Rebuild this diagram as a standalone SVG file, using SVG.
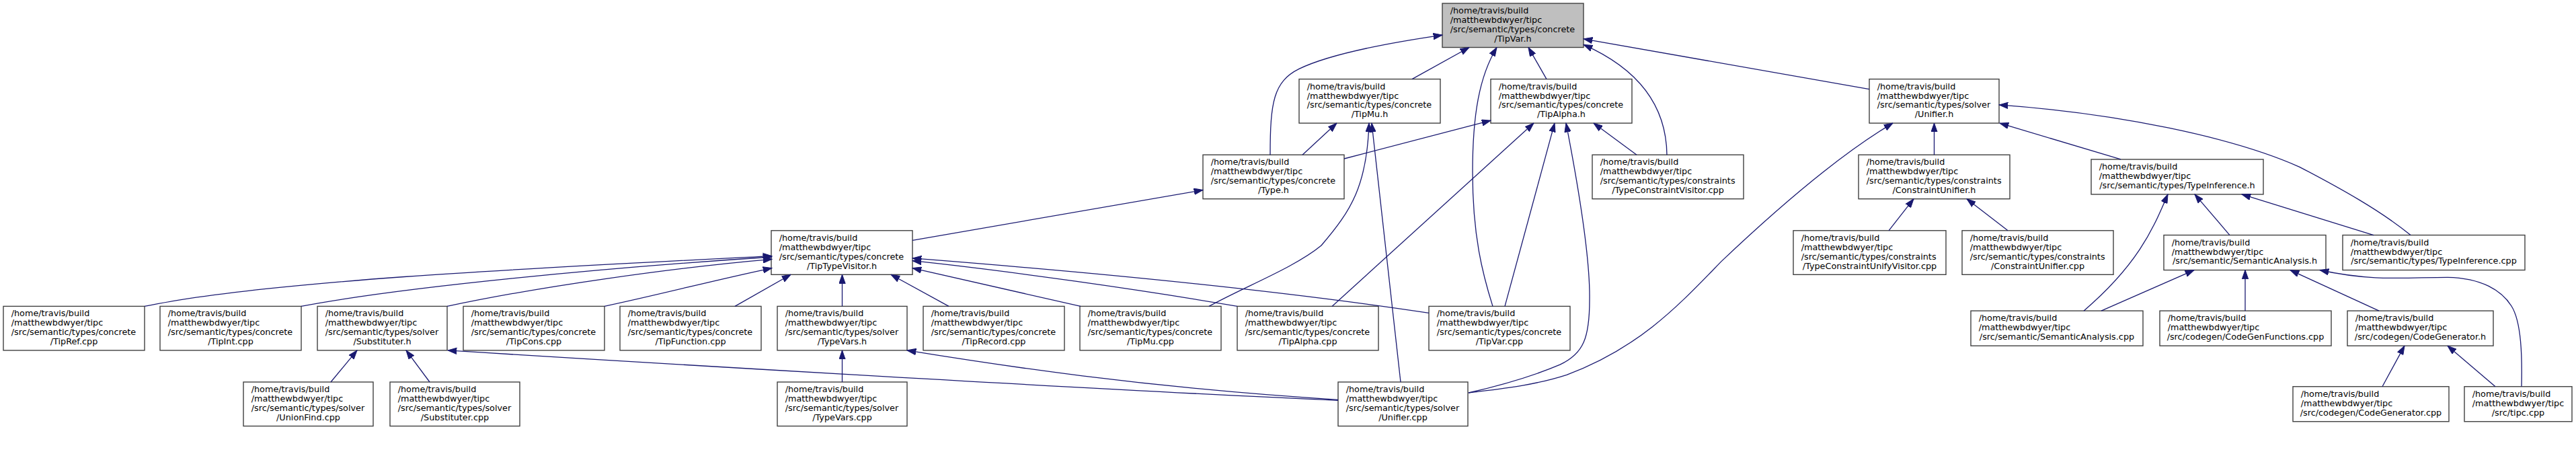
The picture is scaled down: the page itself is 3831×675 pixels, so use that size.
<svg xmlns="http://www.w3.org/2000/svg" width="3831" height="675" viewBox="0 0 3831 675">
<style>
.node rect{fill:#ffffff;stroke:#404040;stroke-width:1.4}
.root rect{fill:#bfbfbf}
text{font-family:"DejaVu Sans","Liberation Sans",sans-serif;font-size:12.8px;fill:#000}
text.c{text-anchor:middle}
#edges path{fill:none;stroke:#191970;stroke-width:1.3;marker-start:url(#ah)}
</style>
<defs>
<marker id="ah" viewBox="0 -5 14 10" refX="13.3" refY="0" markerWidth="14" markerHeight="10" markerUnits="userSpaceOnUse" orient="auto-start-reverse">
<path d="M0,-4.7 L13.3,0 L0,4.7 z" fill="#191970" stroke="#191970" stroke-width="1"/>
</marker>
</defs>
<rect width="3831" height="675" fill="#ffffff"/>

<g id="nodes">
<!-- rank 0 -->
<g id="n_TipVar_h" class="node root" transform="translate(2145,5)"><rect width="210" height="65.5"/><text x="11.7" y="15.1">/home/travis/build</text><text x="11.7" y="29">/matthewbdwyer/tipc</text><text x="11.7" y="42.9">/src/semantic/types/concrete</text><text class="c" x="105" y="56.8">/TipVar.h</text></g>
<!-- rank 1 -->
<g id="n_TipMu_h" class="node" transform="translate(1932,117.6)"><rect width="210" height="65.5"/><text x="11.7" y="15.1">/home/travis/build</text><text x="11.7" y="29">/matthewbdwyer/tipc</text><text x="11.7" y="42.9">/src/semantic/types/concrete</text><text class="c" x="105" y="56.8">/TipMu.h</text></g>
<g id="n_TipAlpha_h" class="node" transform="translate(2217,117.6)"><rect width="210" height="65.5"/><text x="11.7" y="15.1">/home/travis/build</text><text x="11.7" y="29">/matthewbdwyer/tipc</text><text x="11.7" y="42.9">/src/semantic/types/concrete</text><text class="c" x="105" y="56.8">/TipAlpha.h</text></g>
<g id="n_Unifier_h" class="node" transform="translate(2780,117.6)"><rect width="193" height="65.5"/><text x="11.7" y="15.1">/home/travis/build</text><text x="11.7" y="29">/matthewbdwyer/tipc</text><text x="11.7" y="42.9">/src/semantic/types/solver</text><text class="c" x="96.5" y="56.8">/Unifier.h</text></g>
<!-- rank 2 -->
<g id="n_Type_h" class="node" transform="translate(1789,230.2)"><rect width="210" height="65.5"/><text x="11.7" y="15.1">/home/travis/build</text><text x="11.7" y="29">/matthewbdwyer/tipc</text><text x="11.7" y="42.9">/src/semantic/types/concrete</text><text class="c" x="105" y="56.8">/Type.h</text></g>
<g id="n_TypeConstraintVisitor_cpp" class="node" transform="translate(2368,230.2)"><rect width="225" height="65.5"/><text x="11.7" y="15.1">/home/travis/build</text><text x="11.7" y="29">/matthewbdwyer/tipc</text><text x="11.7" y="42.9">/src/semantic/types/constraints</text><text class="c" x="112.5" y="56.8">/TypeConstraintVisitor.cpp</text></g>
<g id="n_ConstraintUnifier_h" class="node" transform="translate(2764,230.2)"><rect width="225" height="65.5"/><text x="11.7" y="15.1">/home/travis/build</text><text x="11.7" y="29">/matthewbdwyer/tipc</text><text x="11.7" y="42.9">/src/semantic/types/constraints</text><text class="c" x="112.5" y="56.8">/ConstraintUnifier.h</text></g>
<g id="n_TypeInference_h" class="node" transform="translate(3110,236.95)"><rect width="256" height="52"/><text x="11.7" y="15.1">/home/travis/build</text><text x="11.7" y="29">/matthewbdwyer/tipc</text><text class="c" x="128" y="42.9">/src/semantic/types/TypeInference.h</text></g>
<!-- rank 3 -->
<g id="n_TipTypeVisitor_h" class="node" transform="translate(1147,342.8)"><rect width="210" height="65.5"/><text x="11.7" y="15.1">/home/travis/build</text><text x="11.7" y="29">/matthewbdwyer/tipc</text><text x="11.7" y="42.9">/src/semantic/types/concrete</text><text class="c" x="105" y="56.8">/TipTypeVisitor.h</text></g>
<g id="n_TypeConstraintUnifyVisitor_cpp" class="node" transform="translate(2667,342.8)"><rect width="227" height="65.5"/><text x="11.7" y="15.1">/home/travis/build</text><text x="11.7" y="29">/matthewbdwyer/tipc</text><text x="11.7" y="42.9">/src/semantic/types/constraints</text><text class="c" x="113.5" y="56.8">/TypeConstraintUnifyVisitor.cpp</text></g>
<g id="n_ConstraintUnifier_cpp" class="node" transform="translate(2918,342.8)"><rect width="225" height="65.5"/><text x="11.7" y="15.1">/home/travis/build</text><text x="11.7" y="29">/matthewbdwyer/tipc</text><text x="11.7" y="42.9">/src/semantic/types/constraints</text><text class="c" x="112.5" y="56.8">/ConstraintUnifier.cpp</text></g>
<g id="n_SemanticAnalysis_h" class="node" transform="translate(3218,349.55)"><rect width="241" height="52"/><text x="11.7" y="15.1">/home/travis/build</text><text x="11.7" y="29">/matthewbdwyer/tipc</text><text class="c" x="120.5" y="42.9">/src/semantic/SemanticAnalysis.h</text></g>
<g id="n_TypeInference_cpp" class="node" transform="translate(3484,349.55)"><rect width="271" height="52"/><text x="11.7" y="15.1">/home/travis/build</text><text x="11.7" y="29">/matthewbdwyer/tipc</text><text class="c" x="135.5" y="42.9">/src/semantic/types/TypeInference.cpp</text></g>
<!-- rank 4 -->
<g id="n_TipRef_cpp" class="node" transform="translate(5,455.4)"><rect width="210" height="65.5"/><text x="11.7" y="15.1">/home/travis/build</text><text x="11.7" y="29">/matthewbdwyer/tipc</text><text x="11.7" y="42.9">/src/semantic/types/concrete</text><text class="c" x="105" y="56.8">/TipRef.cpp</text></g>
<g id="n_TipInt_cpp" class="node" transform="translate(238,455.4)"><rect width="210" height="65.5"/><text x="11.7" y="15.1">/home/travis/build</text><text x="11.7" y="29">/matthewbdwyer/tipc</text><text x="11.7" y="42.9">/src/semantic/types/concrete</text><text class="c" x="105" y="56.8">/TipInt.cpp</text></g>
<g id="n_Substituter_h" class="node" transform="translate(472,455.4)"><rect width="193" height="65.5"/><text x="11.7" y="15.1">/home/travis/build</text><text x="11.7" y="29">/matthewbdwyer/tipc</text><text x="11.7" y="42.9">/src/semantic/types/solver</text><text class="c" x="96.5" y="56.8">/Substituter.h</text></g>
<g id="n_TipCons_cpp" class="node" transform="translate(689,455.4)"><rect width="210" height="65.5"/><text x="11.7" y="15.1">/home/travis/build</text><text x="11.7" y="29">/matthewbdwyer/tipc</text><text x="11.7" y="42.9">/src/semantic/types/concrete</text><text class="c" x="105" y="56.8">/TipCons.cpp</text></g>
<g id="n_TipFunction_cpp" class="node" transform="translate(922,455.4)"><rect width="210" height="65.5"/><text x="11.7" y="15.1">/home/travis/build</text><text x="11.7" y="29">/matthewbdwyer/tipc</text><text x="11.7" y="42.9">/src/semantic/types/concrete</text><text class="c" x="105" y="56.8">/TipFunction.cpp</text></g>
<g id="n_TypeVars_h" class="node" transform="translate(1156,455.4)"><rect width="193" height="65.5"/><text x="11.7" y="15.1">/home/travis/build</text><text x="11.7" y="29">/matthewbdwyer/tipc</text><text x="11.7" y="42.9">/src/semantic/types/solver</text><text class="c" x="96.5" y="56.8">/TypeVars.h</text></g>
<g id="n_TipRecord_cpp" class="node" transform="translate(1373,455.4)"><rect width="210" height="65.5"/><text x="11.7" y="15.1">/home/travis/build</text><text x="11.7" y="29">/matthewbdwyer/tipc</text><text x="11.7" y="42.9">/src/semantic/types/concrete</text><text class="c" x="105" y="56.8">/TipRecord.cpp</text></g>
<g id="n_TipMu_cpp" class="node" transform="translate(1606,455.4)"><rect width="210" height="65.5"/><text x="11.7" y="15.1">/home/travis/build</text><text x="11.7" y="29">/matthewbdwyer/tipc</text><text x="11.7" y="42.9">/src/semantic/types/concrete</text><text class="c" x="105" y="56.8">/TipMu.cpp</text></g>
<g id="n_TipAlpha_cpp" class="node" transform="translate(1840,455.4)"><rect width="210" height="65.5"/><text x="11.7" y="15.1">/home/travis/build</text><text x="11.7" y="29">/matthewbdwyer/tipc</text><text x="11.7" y="42.9">/src/semantic/types/concrete</text><text class="c" x="105" y="56.8">/TipAlpha.cpp</text></g>
<g id="n_TipVar_cpp" class="node" transform="translate(2125,455.4)"><rect width="210" height="65.5"/><text x="11.7" y="15.1">/home/travis/build</text><text x="11.7" y="29">/matthewbdwyer/tipc</text><text x="11.7" y="42.9">/src/semantic/types/concrete</text><text class="c" x="105" y="56.8">/TipVar.cpp</text></g>
<g id="n_SemanticAnalysis_cpp" class="node" transform="translate(2931,462.15)"><rect width="256" height="52"/><text x="11.7" y="15.1">/home/travis/build</text><text x="11.7" y="29">/matthewbdwyer/tipc</text><text class="c" x="128" y="42.9">/src/semantic/SemanticAnalysis.cpp</text></g>
<g id="n_CodeGenFunctions_cpp" class="node" transform="translate(3212,462.15)"><rect width="255" height="52"/><text x="11.7" y="15.1">/home/travis/build</text><text x="11.7" y="29">/matthewbdwyer/tipc</text><text class="c" x="127.5" y="42.9">/src/codegen/CodeGenFunctions.cpp</text></g>
<g id="n_CodeGenerator_h" class="node" transform="translate(3491,462.15)"><rect width="217" height="52"/><text x="11.7" y="15.1">/home/travis/build</text><text x="11.7" y="29">/matthewbdwyer/tipc</text><text class="c" x="108.5" y="42.9">/src/codegen/CodeGenerator.h</text></g>
<!-- rank 5 -->
<g id="n_UnionFind_cpp" class="node" transform="translate(362,568)"><rect width="193" height="65.5"/><text x="11.7" y="15.1">/home/travis/build</text><text x="11.7" y="29">/matthewbdwyer/tipc</text><text x="11.7" y="42.9">/src/semantic/types/solver</text><text class="c" x="96.5" y="56.8">/UnionFind.cpp</text></g>
<g id="n_Substituter_cpp" class="node" transform="translate(580,568)"><rect width="193" height="65.5"/><text x="11.7" y="15.1">/home/travis/build</text><text x="11.7" y="29">/matthewbdwyer/tipc</text><text x="11.7" y="42.9">/src/semantic/types/solver</text><text class="c" x="96.5" y="56.8">/Substituter.cpp</text></g>
<g id="n_TypeVars_cpp" class="node" transform="translate(1156,568)"><rect width="193" height="65.5"/><text x="11.7" y="15.1">/home/travis/build</text><text x="11.7" y="29">/matthewbdwyer/tipc</text><text x="11.7" y="42.9">/src/semantic/types/solver</text><text class="c" x="96.5" y="56.8">/TypeVars.cpp</text></g>
<g id="n_Unifier_cpp" class="node" transform="translate(1990,568)"><rect width="193" height="65.5"/><text x="11.7" y="15.1">/home/travis/build</text><text x="11.7" y="29">/matthewbdwyer/tipc</text><text x="11.7" y="42.9">/src/semantic/types/solver</text><text class="c" x="96.5" y="56.8">/Unifier.cpp</text></g>
<g id="n_CodeGenerator_cpp" class="node" transform="translate(3410,574.75)"><rect width="232" height="52"/><text x="11.7" y="15.1">/home/travis/build</text><text x="11.7" y="29">/matthewbdwyer/tipc</text><text class="c" x="116" y="42.9">/src/codegen/CodeGenerator.cpp</text></g>
<g id="n_tipc_cpp" class="node" transform="translate(3665,574.75)"><rect width="160" height="52"/><text x="11.7" y="15.1">/home/travis/build</text><text x="11.7" y="29">/matthewbdwyer/tipc</text><text class="c" x="80" y="42.9">/src/tipc.cpp</text></g>
</g>

<g id="edges">
<path d="M2145,52.1 C2060,64.5 1975,81.5 1932,102.4 C1894,121.3 1889,151.7 1889,230.2"/>
<path d="M2185,70.5 L2100,117.6"/>
<path d="M2226,70.5 C2200,113.7 2190,170.6 2190,256 C2190,350.7 2205,407.6 2220,455.4"/>
<path d="M2273,70.5 L2300,117.6"/>
<path d="M2355,66.4 C2430,99.5 2478,151.7 2479,230.2"/>
<path d="M2355,57.8 L2780,132.7"/>
<path d="M1988,183.1 L1937,230.2"/>
<path d="M2217,179.2 L1999,236"/>
<path d="M2036,183.1 C2033,275 2010,312.8 1965,365 C1925,398 1850,426.5 1798,455.4"/>
<path d="M2040,183.1 L2083,568"/>
<path d="M2281,183.1 L1981,455.4"/>
<path d="M2312,183.1 L2238,455.4"/>
<path d="M2329,183.1 C2345,265.4 2365,379.1 2364,445.5 C2364,502.4 2355,526 2320,542.2 C2280,559.2 2230,573.5 2184,584"/>
<path d="M2370,183.1 L2434,230.2"/>
<path d="M1789,282.5 L1357,357.3"/>
<path d="M1148,380.6 C800,398.1 400,417 215,455.4"/>
<path d="M1148,382 C900,398.1 600,426.5 448,455.4"/>
<path d="M1148,385.3 C1000,398.1 800,426.5 665,455.4"/>
<path d="M1148,398.6 C1060,417 990,436 899,455.4"/>
<path d="M1176,408.3 L1093,455.4"/>
<path d="M1252.5,408.3 L1252.5,455.4"/>
<path d="M1325,408.3 L1411,455.4"/>
<path d="M1357,398.6 L1607,455.4"/>
<path d="M1357,387.7 C1500,402.8 1700,431.3 1840,455.4"/>
<path d="M1357,383.9 C1600,402.8 1900,431.3 2125,465.4"/>
<path d="M531,520.9 L492,568"/>
<path d="M604,520.9 L639,568"/>
<path d="M666,520.9 C900,535.5 1600,578.2 1990,595.3"/>
<path d="M1252.5,520.9 L1252.5,568"/>
<path d="M1349,520.9 C1480,542.2 1700,576.3 1990,594.3"/>
<path d="M2815,183.1 C2740,227.5 2650,303.3 2560,388.6 C2500,450.2 2440,516.6 2330,557.3 C2280,573.5 2230,578.2 2184,584"/>
<path d="M2876.5,183.1 L2876.5,230.2"/>
<path d="M2974,183.1 L3154,236.95"/>
<path d="M2973,155.9 C3150,168.7 3320,203.8 3420,248.3 C3480,279.6 3540,312.8 3585,349.55"/>
<path d="M2846,295.7 L2809,342.8"/>
<path d="M2925,295.7 L2986,342.8"/>
<path d="M3224,288.95 C3205,331.8 3185,388.6 3099,462.15"/>
<path d="M3264,288.95 L3316,349.55"/>
<path d="M3334,288.95 L3530,349.55"/>
<path d="M3263,401.55 L3125,462.15"/>
<path d="M3339,401.55 L3339,462.15"/>
<path d="M3406,401.55 L3538,462.15"/>
<path d="M3450,401.5 C3530,419 3580,412.3 3640,412.3 C3690,413.3 3720,431.3 3735,455 C3750,478.7 3751,530.8 3750,574.75"/>
<path d="M3576,514.15 L3543,574.75"/>
<path d="M3640,514.15 L3711,574.75"/>
</g>
</svg>
